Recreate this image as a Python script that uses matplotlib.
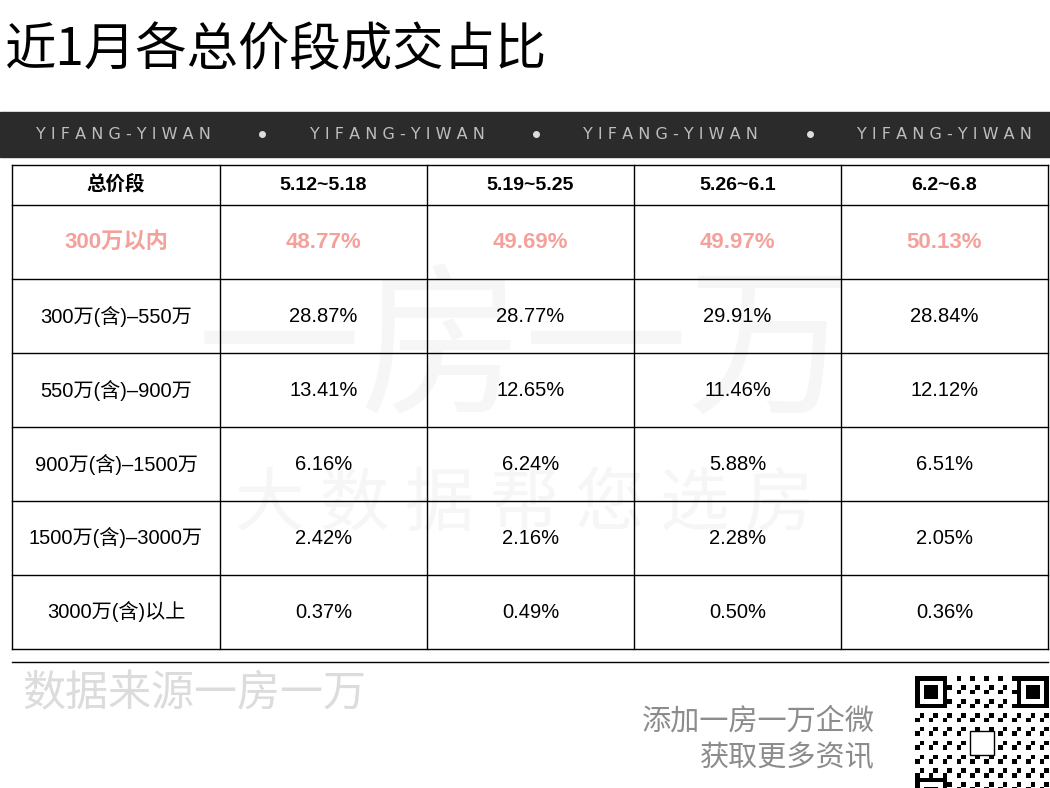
import matplotlib
matplotlib.use('Agg')
import matplotlib.pyplot as plt
import numpy as np

plt.rcParams['font.family'] = ['Liberation Sans', 'Noto Sans CJK SC', 'DejaVu Sans']

title = '近1月各总价段成交占比'
header = ['总价段', '5.12~5.18', '5.19~5.25', '5.26~6.1', '6.2~6.8']
segments = ['300万以内', '300万(含)–550万', '550万(含)–900万', '900万(含)–1500万',
            '1500万(含)–3000万', '3000万(含)以上']
w1 = ['48.77%', '28.87%', '13.41%', '6.16%', '2.42%', '0.37%']
w2 = ['49.69%', '28.77%', '12.65%', '6.24%', '2.16%', '0.49%']
w3 = ['49.97%', '29.91%', '11.46%', '5.88%', '2.28%', '0.50%']
w4 = ['50.13%', '28.84%', '12.12%', '6.51%', '2.05%', '0.36%']

fig = plt.figure(figsize=(10.5, 7.88), dpi=100)
ax = fig.add_axes([0, 0, 1, 1])
ax.set_xlim(0, 1050)
ax.set_ylim(788, 0)
ax.axis('off')

ax.text(5, 50, title, fontsize=37, va='center', ha='left', color='black',
        family=['Noto Sans CJK SC'])

# dark band
ax.add_patch(plt.Rectangle((0, 112), 1050, 45, color='#2b2b2b'))
for x in [123, 397, 670, 944]:
    ax.text(x, 134, ' '.join('YIFANG-YIWAN'), fontsize=11.5,
            color='#bdbdbd', ha='center', va='center', family='DejaVu Sans')
for x in [262, 536, 810]:
    ax.plot(x, 134, 'o', color='#dddddd', ms=4)

# watermark
ax.text(525, 355, '一房一万', fontsize=118, color='#f6f6f6', ha='center', va='center', zorder=0,
        family=['Noto Sans CJK SC'])
ax.text(525, 505, '大 数 据 帮 您 选 房', fontsize=50, color='#f6f6f6', ha='center', va='center', zorder=0,
        family=['Noto Sans CJK SC'])

# table
xs = [12, 220, 427, 634, 841, 1048]
ys = [165, 205, 279, 353, 427, 501, 575, 649]
for x in xs:
    ax.plot([x, x], [ys[0], ys[-1]], color='black', lw=1)
for y in ys:
    ax.plot([xs[0], xs[-1]], [y, y], color='black', lw=1)

for c, h in enumerate(header):
    ax.text((xs[c] + xs[c + 1]) / 2, (ys[0] + ys[1]) / 2, h, fontsize=14,
            fontweight='bold', ha='center', va='center')

cols = [segments, w1, w2, w3, w4]
for r in range(len(segments)):
    color = '#f4a19b' if r == 0 else 'black'
    size = 16 if r == 0 else 14.5
    weight = 'bold' if r == 0 else 'normal'
    for c, col in enumerate(cols):
        ax.text((xs[c] + xs[c + 1]) / 2, (ys[r + 1] + ys[r + 2]) / 2, col[r],
                fontsize=size, color=color, ha='center', va='center', fontweight=weight)

ax.plot([12, 1048], [662, 662], color='black', lw=1)
ax.text(22, 695, '数据来源一房一万', fontsize=31, color='#dcdcdc', ha='left', va='center')
ax.text(875, 722, '添加一房一万企微', fontsize=21, color='#8c8c8c', ha='right', va='center')
ax.text(875, 758, '获取更多资讯', fontsize=21, color='#8c8c8c', ha='right', va='center')

# QR-like decoration
x0, y0, s = 915, 676, 134
n = 29
cell = s / n
for i in range(n):
    for j in range(n):
        if (i * 7 + j * 11 + i * j) % 3 == 0:
            ax.add_patch(plt.Rectangle((x0 + j * cell, y0 + i * cell), cell, cell, color='black', lw=0))
for fx, fy in [(0, 0), (n - 7, 0), (0, n - 7)]:
    ax.add_patch(plt.Rectangle((x0 + fx * cell, y0 + fy * cell), 7 * cell, 7 * cell, color='black', lw=0))
    ax.add_patch(plt.Rectangle((x0 + (fx + 1) * cell, y0 + (fy + 1) * cell), 5 * cell, 5 * cell, color='white', lw=0))
    ax.add_patch(plt.Rectangle((x0 + (fx + 2) * cell, y0 + (fy + 2) * cell), 3 * cell, 3 * cell, color='black', lw=0))
ax.add_patch(plt.Rectangle((x0 + 12 * cell, y0 + 12 * cell), 5 * cell, 5 * cell, color='white', ec='black', lw=1))

fig.savefig('out.png', dpi=100)
